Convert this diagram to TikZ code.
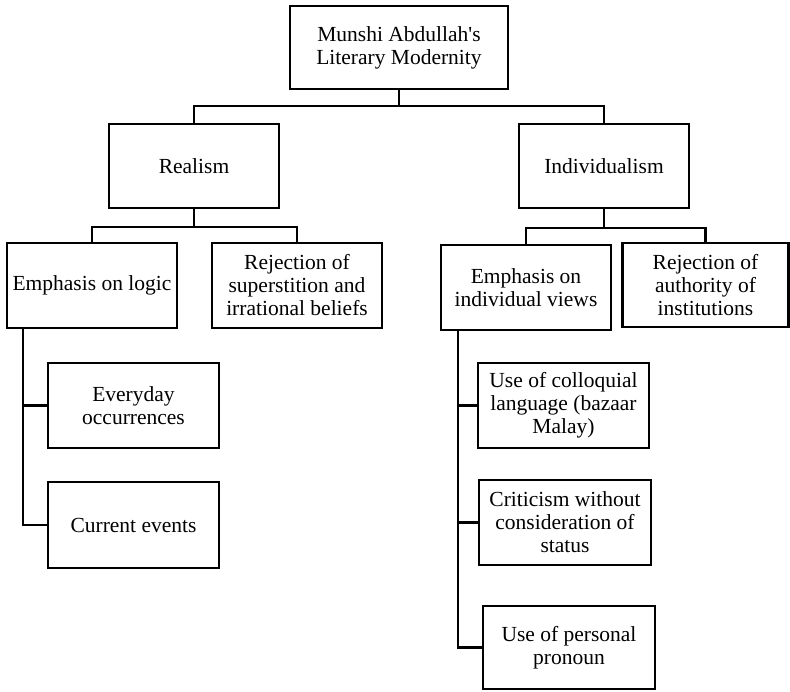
\documentclass[tikz,border=0pt]{standalone}
\usepackage{fontspec}
\setmainfont{Liberation Serif}
\begin{document}
\begin{tikzpicture}[x=1pt,y=-1pt,
  box/.style={draw=black,line width=2.8pt,rectangle,inner sep=0pt,outer sep=0pt,
    align=center,font=\fontsize{21.5}{23}\selectfont},
  link/.style={draw=black,line width=2.8pt,line cap=rect}]
\useasboundingbox (0,0) rectangle (790,691);
\node[box,minimum width=218,minimum height=83] (top) at (399,47.5) {Munshi Abdullah\textquotesingle s\\Literary Modernity};
\node[box,minimum width=170,minimum height=84] (realism) at (194,166) {Realism};
\node[box,minimum width=170,minimum height=84] (indiv) at (604,166) {Individualism};
\node[box,minimum width=170,minimum height=85] (logic) at (92,285.5) {Emphasis on logic};
\node[box,minimum width=170,minimum height=85] (superst) at (297,285.5) {Rejection of\\superstition and\\irrational beliefs};
\node[box,minimum width=170,minimum height=85] (views) at (526,287.5) {Emphasis on\\individual views};
\node[box,minimum width=166,minimum height=84] (auth) at (705.5,285) {Rejection of\\authority of\\institutions};
\node[box,minimum width=171,minimum height=85] (everyday) at (133.5,405.5) {Everyday\\occurrences};
\node[box,minimum width=171,minimum height=86] (current) at (133.5,525) {Current events};
\node[box,minimum width=171,minimum height=85] (colloq) at (563.5,405.5) {Use of colloquial\\language (bazaar\\Malay)};
\node[box,minimum width=172,minimum height=85] (crit) at (565,522.5) {Criticism without\\consideration of\\status};
\node[box,minimum width=172,minimum height=83] (pron) at (569,647.5) {Use of personal\\pronoun};
\coordinate (j1) at (399,106);
\coordinate (j2) at (194,227);
\coordinate (j3) at (604,228);
\coordinate (lv) at (23,0);
\coordinate (vv) at (458,0);
\draw[link] (top.south) -- (j1);
\draw[link] (realism.north) |- (j1) -| (indiv.north);
\draw[link] (realism.south) -- (j2);
\draw[link] (logic.north) |- (j2) -| (superst.north);
\draw[link] (indiv.south) -- (j3);
\draw[link] (views.north) |- (j3) -| (auth.north);
\draw[link] (logic.south -| lv) |- (everyday.west);
\draw[link] (logic.south -| lv) |- (current.west);
\draw[link] (views.south -| vv) |- (colloq.west);
\draw[link] (views.south -| vv) |- (crit.west);
\draw[link] (views.south -| vv) |- (pron.west);
\end{tikzpicture}
\end{document}
